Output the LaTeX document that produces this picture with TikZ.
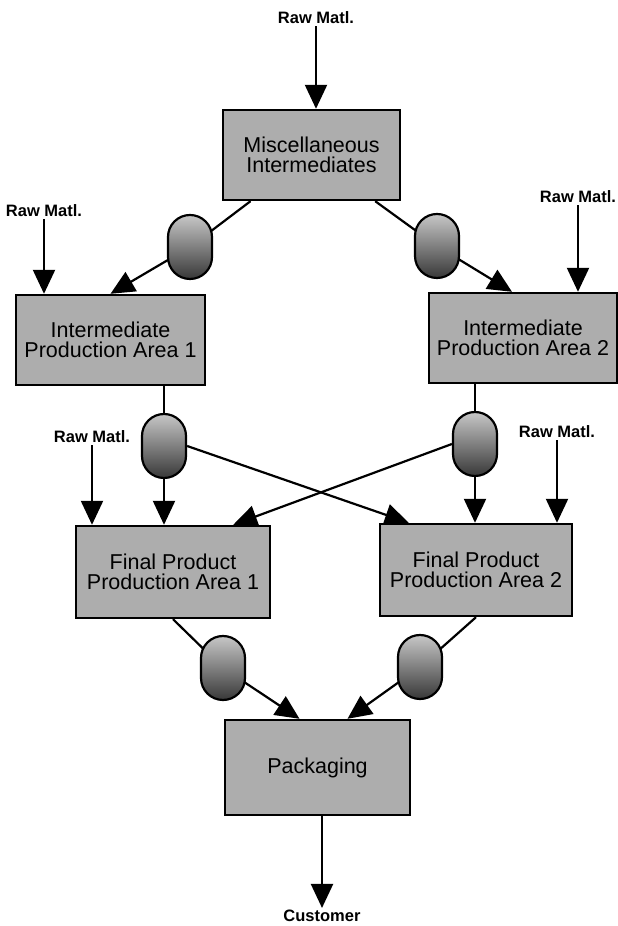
\documentclass[tikz,border=0pt]{standalone}
\usepackage{fontspec}
\setmainfont{Liberation Sans}
\usetikzlibrary{arrows.meta, calc}
\pgfdeclarelayer{bg}
\pgfsetlayers{bg,main}

\tikzset{
  area/.style={draw, line width=2.4pt, fill=black!32, minimum width=#1, minimum height=90pt,
    align=center, inner sep=0pt, font=\fontsize{21.5}{20.5}\selectfont},
  tank/.style={draw, line width=2.2pt, rounded corners=22pt, minimum width=44pt, minimum height=64pt,
    inner sep=0pt, top color=black!22, bottom color=black!78},
  feed/.style={inner sep=2pt, font=\bfseries\fontsize{16.5}{18}\selectfont},
  pipe/.style={line width=2.2pt},
  flow/.style={line width=2.2pt, -{Triangle[length=24pt,width=22pt]}},
}

\begin{document}
\begin{tikzpicture}[x=1pt, y=1pt]
\useasboundingbox (0,0) rectangle (618,926);

% production areas
\node[area=177pt] (misc) at (311.5,771) {Miscellaneous\\Intermediates};
\node[area=189pt] (ipa1) at (110.5,586) {Intermediate\\Production Area 1};
\node[area=188pt] (ipa2) at (523,588) {Intermediate\\Production Area 2};
\node[area=194pt, minimum height=92pt] (fp1) at (173,354) {Final Product\\Production Area 1};
\node[area=192pt, minimum height=92pt] (fp2) at (476,356) {Final Product\\Production Area 2};
\node[area=185pt, minimum height=95pt] (pack) at (317.5,158.5) {Packaging};

% storage tanks
\node[tank] (t1) at (190,679) {};
\node[tank] (t2) at (437,680) {};
\node[tank] (t3) at (164,480) {};
\node[tank] (t4) at (475,482) {};
\node[tank] (t5) at (223,258) {};
\node[tank] (t6) at (420,259) {};

% raw materials in, product out
\node[feed] (rm0) at (316,908) {Raw Matl.};
\node[feed] (rm1) at (44,715) {Raw Matl.};
\node[feed] (rm2) at (578,729) {Raw Matl.};
\node[feed] (rm3) at (92,489) {Raw Matl.};
\node[feed] (rm4) at (557,494) {Raw Matl.};
\node[feed] (cust) at (322,10) {Customer};

\draw[flow] (rm0) -- (rm0 |- misc.north);
\draw[flow] (rm1) -- (rm1 |- ipa1.north);
\draw[flow] (rm2) -- (rm2 |- ipa2.north);
\draw[flow] (rm3) -- (rm3 |- fp1.north);
\draw[flow] (rm4) -- (rm4 |- fp2.north);
\draw[flow] (pack.south -| cust) -- (cust);

\begin{pgfonlayer}{bg}
  \draw[pipe] (misc) -- (t1.center);
  \draw[flow] (t1.center) -- (ipa1.north);
  \draw[pipe] (misc) -- (t2.center);
  \draw[flow] (t2.center) -- ($(ipa2.north)+(-11,0)$);
  \draw[pipe] (ipa1.south -| t3) -- (t3.center);
  \draw[flow] (t3.center) -- (t3 |- fp1.north);
  \draw[pipe] (ipa2.south -| t4) -- (t4.center);
  \draw[flow] (t4.center) -- (t4 |- fp2.north);
  \draw[flow] (t3.east) -- ($(fp2.north west)+(30,0)$);
  \draw[flow] (t4.west) -- ($(fp1.north east)+(-38,0)$);
  \draw[pipe] (fp1.south) -- (t5.center);
  \draw[flow] (t5.center) -- ($(pack.north)+(-18,0)$);
  \draw[pipe] (fp2.south) -- (t6.center);
  \draw[flow] (t6.center) -- ($(pack.north)+(30,0)$);
\end{pgfonlayer}
\end{tikzpicture}
\end{document}
